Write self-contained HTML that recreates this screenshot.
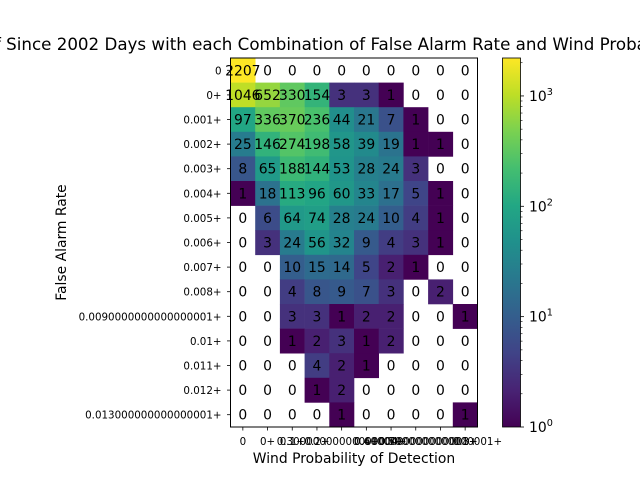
<!DOCTYPE html>
<html><head><meta charset="utf-8"><style>
body{margin:0;background:#fff;font-family:"Liberation Sans","DejaVu Sans",sans-serif}
</style></head><body>
<svg id="chart" width="640" height="480" xmlns="http://www.w3.org/2000/svg" font-family="DejaVu Sans, Liberation Sans, sans-serif">
<defs><linearGradient id="vg" x1="0" y1="1" x2="0" y2="0"></linearGradient></defs>
<text x="354" y="50" font-size="16.7" text-anchor="middle">Number of Since 2002 Days with each Combination of False Alarm Rate and Wind Probability of Detection</text>
<g id="cells"></g>
<g id="labels"></g>
<rect x="230.5" y="58" width="247" height="369" fill="none" stroke="#000" stroke-width="1"/>
<g id="yticks"></g>
<g id="xticks"></g>
<text x="354" y="463" font-size="13.9" text-anchor="middle">Wind Probability of Detection</text>
<text transform="translate(66,242.5) rotate(-90)" font-size="13.9" text-anchor="middle">False Alarm Rate</text>
<rect x="502.5" y="58" width="18" height="369" fill="url(#vg)" stroke="#000" stroke-width="0.8"/>
<g id="cbticks"></g>
</svg>
<script>
const rowLabels=["0","0+","0.001+","0.002+","0.003+","0.004+","0.005+","0.006+","0.007+","0.008+","0.0090000000000000001+","0.01+","0.011+","0.012+","0.013000000000000001+"];
const colLabels=["0","0+","0.1+","0.2+","0.30000000000000004+","0.4+","0.5+","0.6000000000000001+","0.7000000000000001+","0.8+"];
const counts=[
[2207,0,0,0,0,0,0,0,0,0],
[1046,652,330,154,3,3,1,0,0,0],
[97,336,370,236,44,21,7,1,0,0],
[25,146,274,198,58,39,19,1,1,0],
[8,65,188,144,53,28,24,3,0,0],
[1,18,113,96,60,33,17,5,1,0],
[0,6,64,74,28,24,10,4,1,0],
[0,3,24,56,32,9,4,3,1,0],
[0,0,10,15,14,5,2,1,0,0],
[0,0,4,8,9,7,3,0,2,0],
[0,0,3,3,1,2,2,0,0,1],
[0,0,1,2,3,1,2,0,0,0],
[0,0,0,4,2,1,0,0,0,0],
[0,0,0,1,2,0,0,0,0,0],
[0,0,0,0,1,0,0,0,0,1]];
const cbTickExps=[0,1,2,3];
const V=[[68,1,84],[72,35,116],[64,67,135],[52,94,141],[41,120,142],[32,144,140],[34,167,132],[68,190,112],[121,209,81],[189,222,38],[253,231,37]];
function viridis(t){t=Math.max(0,Math.min(1,t));const p=t*10,i=Math.min(9,Math.floor(p)),f=p-i;const a=V[i],b=V[i+1];return `rgb(${a.map((c,k)=>Math.round(c+(b[k]-c)*f)).join(',')})`;}
const NS="http://www.w3.org/2000/svg";
const X0=230.5,X1=477.5,Y0=58,Y1=427;
const vmax=Math.max(...counts.flat()),lmax=Math.log10(vmax);
const cw=(X1-X0)/colLabels.length,ch=(Y1-Y0)/rowLabels.length;
const xPos=j=>X0+j*cw, yPos=i=>Y0+i*ch;
const norm=v=>Math.log10(v)/lmax;
function mk(tag,attrs,parent){const e=document.createElementNS(NS,tag);for(const k in attrs)e.setAttribute(k,attrs[k]);document.getElementById(parent).appendChild(e);return e;}
const grad=document.getElementById('vg');
for(let k=0;k<=10;k++){const s=document.createElementNS(NS,'stop');s.setAttribute('offset',k/10);s.setAttribute('stop-color',viridis(k/10));grad.appendChild(s);}
counts.forEach((row,i)=>row.forEach((v,j)=>{
 if(v>0){const r=mk('rect',{x:xPos(j),y:yPos(i),width:cw+0.3,height:ch+0.3,fill:viridis(norm(v))},'cells');
 
 }
 const t=mk('text',{x:xPos(j)+cw/2,y:yPos(i)+ch/2+5,'font-size':13.9,'text-anchor':'middle'},'labels');
 
 
 t.textContent=v;
}));
rowLabels.forEach((l,i)=>{const y=yPos(i)+ch/2;
 const ln=mk('line',{x1:X0-3.5,x2:X0,y1:y,y2:y,stroke:'#000','stroke-width':0.8},'yticks');
 
 
 const t=mk('text',{x:X0-9,y:y+4,'font-size':10.3,'text-anchor':'end'},'yticks');
 
 
 t.textContent=l;});
colLabels.forEach((l,j)=>{const x=xPos(j)+cw/2;
 const ln=mk('line',{x1:x,x2:x,y1:Y1,y2:Y1+3.5,stroke:'#000','stroke-width':0.8},'xticks');
 
 
 const t=mk('text',{x:x,y:Y1+18,'font-size':10.3,'text-anchor':'middle'},'xticks');
 
 
 t.textContent=l;});
const cbY=v=>Y1-(Math.log10(v)/lmax)*(Y1-Y0);
cbTickExps.forEach(e=>{const y=cbY(Math.pow(10,e));
 const ln=mk('line',{x1:520.5,x2:524,y1:y,y2:y,stroke:'#000','stroke-width':0.8},'cbticks');
 
 
 const t=mk('text',{x:529,y:y+5,'font-size':13.9},'cbticks');
 
 
 t.innerHTML='10<tspan dy="-6" font-size="9.7">'+e+'</tspan>';
 for(let m=2;m<10;m++){const v=m*Math.pow(10,e);if(v>vmax)break;const yy=cbY(v);
  const mn=mk('line',{x1:520.5,x2:522.5,y1:yy,y2:yy,stroke:'#000','stroke-width':0.6},'cbticks');
  
  }
});
</script>
</body></html>
